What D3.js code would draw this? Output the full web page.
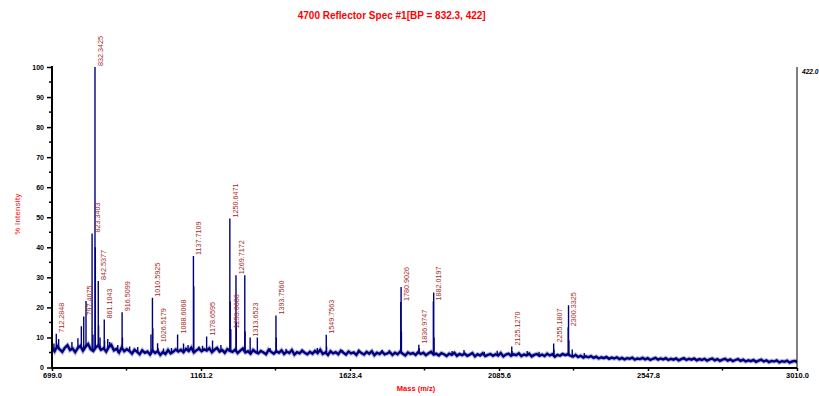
<!DOCTYPE html>
<html><head><meta charset="utf-8">
<script src="https://cdn.jsdelivr.net/npm/d3@7"></script>
<style>html,body{margin:0;padding:0;background:#fff;overflow:hidden}svg{display:block;font-family:"Liberation Sans",Arial,sans-serif}</style>
</head><body><svg id="c" width="819" height="396"></svg>
<script>
// ---------- data ----------
const titleText = "4700 Reflector Spec #1[BP = 832.3, 422]";
const xAxisTitle = "Mass (m/z)";
const yAxisTitle = "% Intensity";
const maxCountsLabel = "422.0";
const xTickLabels = ["699.0", "1161.2", "1623.4", "2085.6", "2547.8", "3010.0"];
const xMinorTicks = [930.1, 1392.3, 1854.5, 2316.7, 2778.9];
const yTicks = [0, 10, 20, 30, 40, 50, 60, 70, 80, 90, 100];
const yMinorTicks = [5, 15, 25, 35, 45, 55, 65, 75, 85, 95];

// baseline noise, % intensity, sampled every 8 Da from 699
const baseMassStart = 699, baseMassStep = 8;
const baseline = [
 6.8,5.4,7.1,6.0,5.2,6.6,7.4,5.8,6.3,5.1,
 6.5,7.2,5.6,6.9,7.8,6.1,5.5,6.7,7.3,5.9,
 6.4,5.3,6.8,7.5,5.7,6.2,5.0,6.6,5.4,6.1,
 5.5,4.6,5.9,5.2,4.4,5.7,4.9,5.3,4.3,5.6,
 4.8,5.4,4.2,5.1,4.5,5.8,4.7,5.2,6.0,5.3,
 5.9,5.1,6.2,5.5,6.6,5.0,5.7,6.3,5.4,6.0,
 5.6,6.4,5.1,5.9,6.5,5.3,5.8,4.9,6.1,5.5,
 5.2,5.9,4.8,5.6,6.3,5.0,5.4,4.6,5.8,5.1,
 4.7,5.5,5.0,4.4,5.9,5.2,4.6,5.4,4.9,5.7,
 4.5,5.3,4.8,5.8,4.3,5.1,4.7,5.6,4.9,4.4,
 5.2,4.6,5.5,4.8,5.9,4.5,5.0,4.2,5.4,4.7,
 5.1,4.4,5.6,4.9,4.3,5.3,4.7,5.0,4.2,5.5,
 4.8,4.3,5.2,4.6,5.4,4.1,4.9,4.5,5.3,4.4,
 4.7,5.1,4.2,4.9,4.4,5.3,4.6,4.0,5.0,4.5,
 4.8,4.2,5.1,4.5,4.9,4.1,4.7,5.2,4.3,4.6,
 4.0,4.8,4.4,3.8,4.6,4.2,4.9,3.9,4.5,4.1,
 4.6,3.9,4.3,4.8,3.7,4.4,4.0,4.7,3.8,4.2,
 4.5,3.9,4.4,4.0,4.8,3.7,4.3,4.6,3.9,4.4,
 4.1,4.7,3.8,4.3,4.0,4.6,3.7,4.2,4.5,3.9,
 4.3,3.8,4.6,4.0,4.4,3.6,4.2,3.9,4.5,4.1,
 4.4,3.9,3.6,4.2,3.5,3.9,3.3,3.7,3.4,3.8,
 3.2,3.6,3.0,3.4,3.1,3.5,2.9,3.3,3.0,3.4,
 2.8,3.2,2.7,3.1,2.9,3.3,2.6,3.0,2.8,3.2,
 2.7,3.1,2.5,2.9,3.2,2.6,3.0,2.7,3.1,2.5,
 2.9,2.6,3.0,2.4,2.8,3.1,2.5,2.9,2.6,3.0,
 2.4,2.8,2.5,2.9,2.3,2.7,3.0,2.4,2.8,2.2,
 2.6,2.9,2.3,2.7,2.1,2.5,2.8,2.2,2.6,2.0,
 2.4,2.1,2.5,1.9,2.3,2.6,2.0,2.4,1.8,2.2,
 2.0,2.4,1.7,2.1,1.9,2.3,1.6,2.0,2.2,1.8
];

// labelled peaks
const labeledMass = [712.2848, 797.4075, 823.3403, 832.3425, 842.5377, 861.1043, 916.5099,
  1010.5925, 1026.5179, 1088.6068, 1137.7109, 1178.6595, 1250.6471, 1253.6686, 1269.7172,
  1313.6523, 1393.7560, 1549.7563, 1780.9026, 1836.9747, 1882.0197, 2125.1270, 2255.1807, 2300.3325];
const labeledIntensity = [11.2, 17.0, 44.6, 100, 28.8, 16.0, 18.4,
  23.2, 8.1, 11.0, 37.1, 10.3, 49.6, 12.7, 30.7,
  10.0, 17.3, 10.9, 21.8, 7.6, 22.0, 7.0, 8.0, 13.4];

// unlabelled peaks
const otherMass = [705, 719.6, 760.8, 779.4, 790, 804.5, 826, 833.4, 843.5, 848, 862.1, 872, 878,
  903, 917.5, 940, 965, 1006, 1011.6, 1027.5, 1045, 1069.7, 1107, 1121, 1138.7, 1154.5, 1166,
  1197, 1223, 1251.6, 1270.7, 1297, 1298, 1336, 1375.5, 1394.8, 1425, 1475, 1522, 1550.8, 1600,
  1650, 1690, 1723, 1745, 1781.9, 1782.9, 1837.9, 1883, 1884, 1940, 1977, 2040, 2080, 2126.1,
  2173, 2210, 2256.2, 2301.3, 2302.3, 2312.8, 2350];
const otherIntensity = [8.0, 9.5, 8.5, 9.7, 13.7, 22.1, 11, 40, 14, 10, 9, 9.5, 8.5,
  7.5, 10, 7, 6.8, 11, 13, 6.5, 6.3, 6.5, 8, 7.5, 27, 7, 7.2,
  9, 7.5, 22, 15, 30.7, 12, 10, 6.5, 10, 6.2, 6, 6.5, 7, 5.8,
  6, 5.7, 5.8, 5.9, 26.8, 12, 6.5, 25, 10, 5.5, 5.8, 5.2, 5.6, 5.5,
  5.5, 5.2, 6, 20.7, 9, 6, 4.8];

// ---------- drawing ----------
const svg = d3.select("#c");
const x = d3.scaleLinear().domain([699, 3010]).range([52, 797]);
const y = d3.scaleLinear().domain([0, 100]).range([367.5, 67]);
const navy = "#00007f";
const red = "#ff0000";
const labelRed = "#a52a2a";

svg.append("defs").append("clipPath").attr("id", "plotclip")
  .append("rect").attr("x", x(699)).attr("y", 0).attr("width", x(3010) - x(699)).attr("height", y(0));

const plot = svg.append("g").attr("clip-path", "url(#plotclip)");

const basePts = baseline.map((v, i) => [baseMassStart + i * baseMassStep, v]);
const baseLine = d3.line().x(d => x(d[0])).y(d => y(d[1]));
plot.append("path").datum(basePts).attr("d", baseLine)
  .attr("fill", "none").attr("stroke", "#7f7fc8").attr("stroke-width", 4.5).attr("stroke-opacity", 0.55);
plot.append("path").datum(basePts).attr("d", baseLine)
  .attr("fill", "none").attr("stroke", navy).attr("stroke-width", 2.4).attr("stroke-linejoin", "miter");

function baseAt(m) {
  const i = Math.round((m - baseMassStart) / baseMassStep);
  return baseline[Math.max(0, Math.min(baseline.length - 1, i))];
}
const peaks = labeledMass.map((m, i) => ({ m, v: labeledIntensity[i] }))
  .concat(otherMass.map((m, i) => ({ m, v: otherIntensity[i] })));
plot.append("g").selectAll("line").data(peaks).join("line")
  .attr("x1", d => x(d.m)).attr("x2", d => x(d.m))
  .attr("y1", d => y(baseAt(d.m))).attr("y2", d => y(d.v))
  .attr("stroke", navy).attr("stroke-width", 1.4);

// peak labels
svg.append("g").selectAll("text").data(labeledMass.map((m, i) => ({ m, v: labeledIntensity[i] }))).join("text")
  .attr("transform", d => `translate(${x(d.m) + 8},${y(d.v) - 1}) rotate(-90)`)
  .attr("text-anchor", "start")
  .attr("font-size", 7.2).attr("fill", labelRed)
  .text(d => d.m.toFixed(4));

// left axis
const yAxis = svg.append("g").attr("transform", `translate(${x(699)},0)`)
  .call(d3.axisLeft(y).tickValues(yTicks).tickSize(5).tickPadding(3).tickFormat(d3.format("d")));
yAxis.select(".domain").attr("stroke-width", 2).attr("d", `M0,${y(0) + 1}V${y(100) - 1}`);
yAxis.selectAll(".tick line").attr("stroke-width", 1.5).attr("x2", -5).attr("x1", 1);
yAxis.selectAll(".tick text").attr("font-size", 7).attr("font-weight", "bold").attr("font-family", "Liberation Sans, Arial, sans-serif");
svg.append("g").selectAll("line").data(yMinorTicks).join("line")
  .attr("x1", x(699) - 3).attr("x2", x(699)).attr("y1", d => y(d)).attr("y2", d => y(d))
  .attr("stroke", "#000").attr("stroke-width", 1.5);

// bottom axis
const xAxis = svg.append("g").attr("transform", `translate(0,${y(0) + 0.5})`)
  .call(d3.axisBottom(x).tickValues(xTickLabels.map(Number)).tickSize(3).tickPadding(2)
    .tickFormat((d, i) => xTickLabels[i]));
xAxis.select(".domain").attr("stroke-width", 2).attr("d", `M${x(699) - 1},0H${x(3010)}`);
xAxis.selectAll(".tick line").attr("stroke-width", 1.5);
xAxis.selectAll(".tick text").attr("font-size", 7.5).attr("font-weight", "bold").attr("font-family", "Liberation Sans, Arial, sans-serif");
svg.append("g").selectAll("line").data(xMinorTicks).join("line")
  .attr("x1", d => x(d)).attr("x2", d => x(d)).attr("y1", y(0)).attr("y2", y(0) + 3)
  .attr("stroke", "#000").attr("stroke-width", 1.5);

// right axis
svg.append("line").attr("x1", x(3010)).attr("x2", x(3010)).attr("y1", y(100)).attr("y2", y(0) + 1)
  .attr("stroke", "#000").attr("stroke-width", 1);
svg.append("text").attr("x", x(3010) + 5).attr("y", y(100) + 6.5)
  .attr("font-size", 6.6).attr("font-weight", "bold").attr("font-style", "italic").text(maxCountsLabel);

// titles
svg.append("text").attr("x", 391.7).attr("y", 19).attr("text-anchor", "middle")
  .attr("font-size", 10).attr("font-weight", "bold").attr("fill", red).text(titleText);
svg.append("text").attr("transform", "translate(19.5,214) rotate(-90)").attr("text-anchor", "middle")
  .attr("font-size", 7.5).attr("letter-spacing", 0.4).attr("fill", red).text(yAxisTitle);
svg.append("text").attr("x", 416).attr("y", 391).attr("text-anchor", "middle")
  .attr("font-size", 7.5).attr("font-weight", "bold").attr("fill", red).text(xAxisTitle);
</script></body></html>
